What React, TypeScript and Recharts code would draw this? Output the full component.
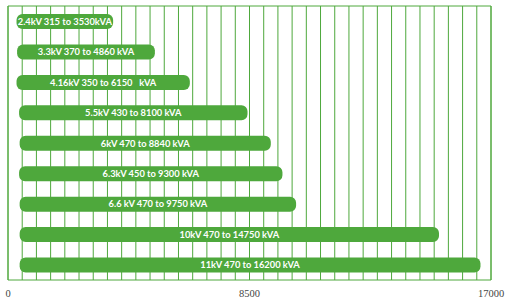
import React from 'react';
import { BarChart, Bar, XAxis, YAxis, CartesianGrid, LabelList, ReferenceArea } from 'recharts';

const categories = ['2.4kV', '3.3kV', '4.16kV', '5.5kV', '6kV', '6.3kV', '6.6kV', '10kV', '11kV'];
const barLabels = [
  '2.4kV 315 to 3530kVA',
  '3.3kV 370 to 4860 kVA',
  '4.16kV 350 to 6150\u00a0\u00a0 kVA',
  '5.5kV 430 to 8100 kVA',
  '6kV 470 to 8840 kVA',
  '6.3kV 450 to 9300 kVA',
  '6.6 kV 470 to 9750 kVA',
  '10kV 470 to 14750 kVA',
  '11kV 470 to 16200 kVA',
];
const rangeStart = [300, 320, 300, 390, 410, 390, 410, 410, 410];
const rangeEnd = [3700, 5170, 6400, 8430, 9250, 9660, 10140, 15170, 16630];
const axisLabels = [0, 8500, 17000];
const gridTicks = [
  0, 500, 1000, 1500, 2000, 2500, 3000, 3500, 4000, 4500, 5000, 5500, 6000, 6500, 7000, 7500, 8000, 8500,
  9000, 9500, 10000, 10500, 11000, 11500, 12000, 12500, 13000, 13500, 14000, 14500, 15000, 15500, 16000,
  16500, 17000,
];

const data = categories.map((name, i) => ({
  name,
  range: [rangeStart[i], rangeEnd[i]],
  label: barLabels[i],
}));

const GREEN = '#4ea83c';

const AxisTick = (props: any) => {
  const { x, y, payload } = props;
  if (!axisLabels.includes(payload.value)) return <g />;
  return (
    <text
      x={x}
      y={y}
      dy={15}
      textAnchor="middle"
      fontFamily="'Liberation Serif', serif"
      fontSize={10.5}
      fill="#444"
    >
      {payload.value}
    </text>
  );
};

const BarText = (props: any) => {
  const { x, y, width, height, value } = props;
  return (
    <text
      x={Number(x) + Number(width) / 2}
      y={Number(y) + Number(height) / 2}
      dy="0.35em"
      textAnchor="middle"
      fill="#ffffff"
      fontFamily="Lato, sans-serif"
      fontWeight="bold"
      fontSize={9.3}
      style={{ whiteSpace: 'pre' }}
    >
      {value}
    </text>
  );
};

export default function App() {
  return (
    <div style={{ position: 'absolute', left: 0, top: 0 }}>
      <BarChart
        width={505}
        height={305}
        data={data}
        layout="vertical"
        margin={{ top: 6, right: 14, left: 8, bottom: 0 }}
      >
        <CartesianGrid vertical horizontal={false} stroke={GREEN} strokeWidth={1} />
        <XAxis
          type="number"
          domain={[0, 17000]}
          ticks={gridTicks}
          interval={0}
          height={25}
          axisLine={false}
          tickLine={false}
          tickSize={0}
          tick={<AxisTick />}
        />
        <YAxis type="category" dataKey="name" hide />
        <ReferenceArea x1={0} x2={17000} fill="none" stroke={GREEN} strokeWidth={1} fillOpacity={0} />
        <Bar dataKey="range" fill={GREEN} barSize={15} radius={6} isAnimationActive={false}>
          <LabelList dataKey="label" content={<BarText />} />
        </Bar>
      </BarChart>
    </div>
  );
}
